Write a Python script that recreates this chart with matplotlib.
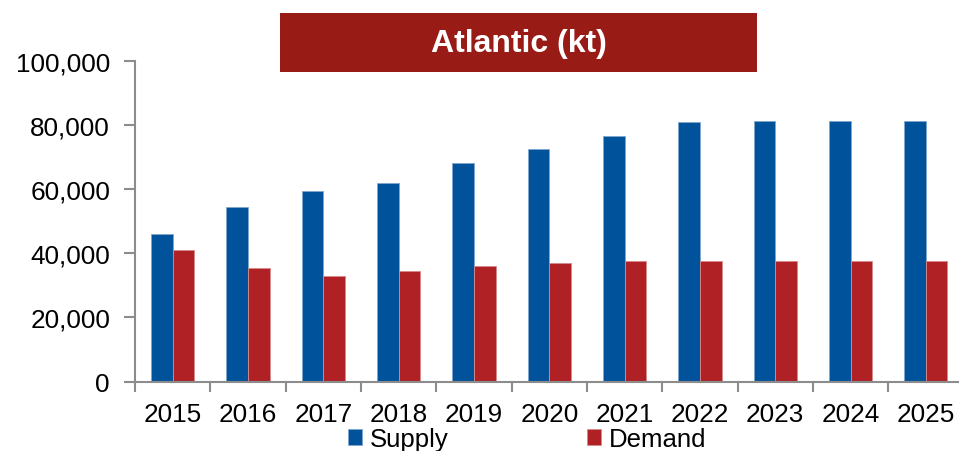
import numpy as np
import matplotlib.pyplot as plt
from matplotlib.patches import Rectangle
from matplotlib.ticker import FuncFormatter

plt.rcParams['font.family'] = ['Liberation Sans', 'DejaVu Sans']

years = ['2015', '2016', '2017', '2018', '2019', '2020',
         '2021', '2022', '2023', '2024', '2025']
supply = [46100, 54400, 59600, 62000, 68200, 72600, 76800, 80900, 81500, 81500, 81500]
demand = [41000, 35400, 32900, 34400, 36100, 36900, 37600, 37600, 37500, 37500, 37500]

blue = '#00529B'
red = '#B02125'
axis_grey = '#8C8C8C'

fig = plt.figure(figsize=(9.59, 4.52), dpi=100)
# axes runs slightly past the right edge of the figure
ax = fig.add_axes([135 / 959, (452 - 382.5) / 452, (963.5 - 135) / 959, (382.5 - 62.3) / 452])

x = np.arange(len(years))
w = 0.287
ax.bar(x - w / 2, supply, w, color=blue, edgecolor='#7FA6CC', linewidth=0.6, label='Supply')
ax.bar(x + w / 2, demand, w, color=red, edgecolor='#D88A8C', linewidth=0.6, label='Demand')

ax.set_xlim(-0.5, len(years) - 0.5)
ax.set_ylim(0, 100000)
ax.set_yticks(np.arange(0, 100001, 20000))
ax.yaxis.set_major_formatter(FuncFormatter(lambda v, p: f'{int(v):,}'))

# category ticks sit between the groups
ax.set_xticks(x)
ax.set_xticklabels(years)
ax.set_xticks(np.arange(-0.5, len(years), 1), minor=True)
ax.tick_params(axis='x', which='major', length=0, pad=15, labelsize=18.8)
ax.tick_params(axis='x', which='minor', length=7, width=1.5, color=axis_grey, direction='out')
ax.tick_params(axis='y', length=8, width=1.5, color=axis_grey, labelsize=18.8, pad=10)

for s in ['top', 'right']:
    ax.spines[s].set_visible(False)
for s in ['left', 'bottom']:
    ax.spines[s].set_color(axis_grey)
    ax.spines[s].set_linewidth(1.5)

# title banner
fig.patches.append(Rectangle((280 / 959, (452 - 72.7) / 452), (757 - 280) / 959, (72.7 - 14) / 452,
                             transform=fig.transFigure, facecolor='#991B16', edgecolor='none'))
fig.text(518.5 / 959, (452 - 44) / 452, 'Atlantic (kt)', color='white', fontsize=23,
         fontweight='bold', ha='center', va='center')

fig.legend(loc='center', bbox_to_anchor=(527 / 959, 12 / 452), ncol=2, frameon=False,
           fontsize=18.5, handlelength=0.55, handleheight=0.55, handletextpad=0.3,
           columnspacing=5.4, borderpad=0)

fig.savefig('out.png', dpi=100)
